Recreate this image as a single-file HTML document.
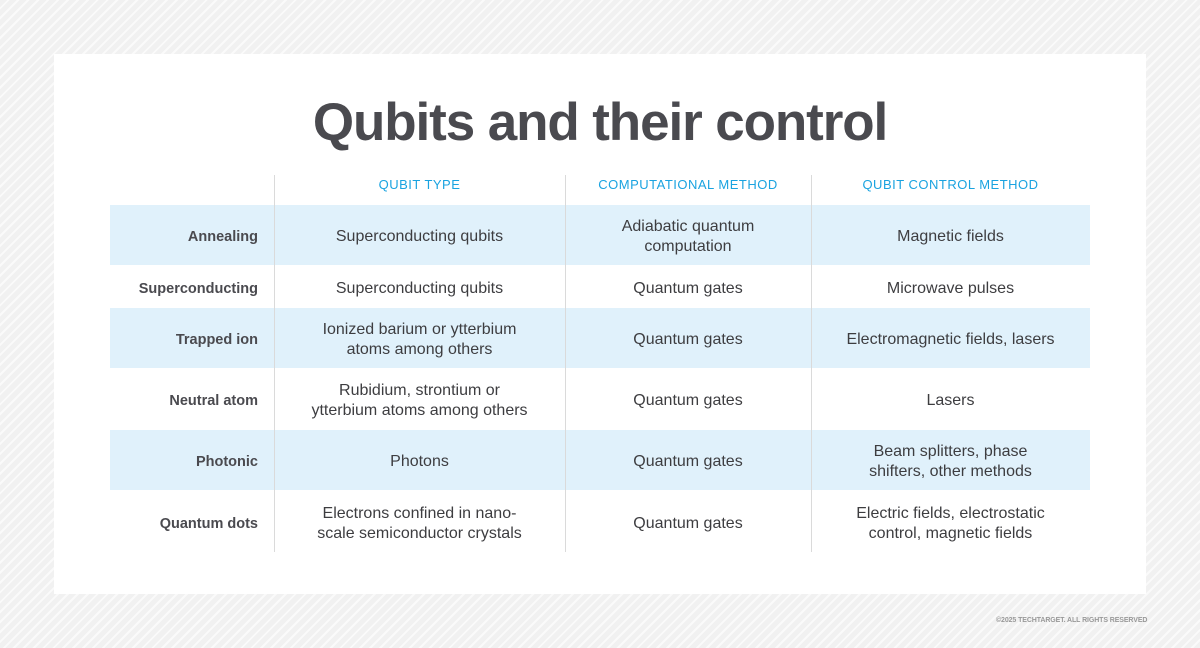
<!DOCTYPE html>
<html><head><meta charset="utf-8"><style>
body{margin:0;width:1200px;height:648px;overflow:hidden;font-family:"Liberation Sans",sans-serif;
background:#f1f1f1 repeating-linear-gradient(135deg,#f1f1f1 0 5px,#fafafa 5px 7px);position:relative}
.card{position:absolute;left:54px;top:54px;width:1092px;height:540px;background:#fff}
h1{position:absolute;left:0;width:1200px;top:92px;margin:0;text-align:center;font-size:53px;font-weight:bold;color:#4a4a4f;letter-spacing:-1.1px}
.row{position:absolute;left:110px;width:980px}
.blue{background:#e0f1fb}
.c{position:absolute;top:2px;height:100%;display:flex;align-items:center;justify-content:center;text-align:center;font-size:16px;color:#3d3d40;line-height:20px}
.c0{left:0;width:148px;justify-content:flex-end;font-weight:bold;font-size:14.5px;color:#4a4a4f}
.c1{left:164px;width:291px}.c2{left:455px;width:246px}.c3{left:701px;width:279px}
.hd .c{font-size:13px;color:#1aa3e0;letter-spacing:0.5px;top:0}
.v{position:absolute;top:175px;height:377px;width:1px;background:#dadada}
.copy{position:absolute;left:996px;top:617px;font-size:7px;font-weight:bold;color:#999;letter-spacing:-0.1px}
</style></head><body>
<div class="card"></div>
<h1>Qubits and their control</h1>
<div class="row hd" style="top:170px;height:30px"><div class="c c1">QUBIT TYPE</div><div class="c c2">COMPUTATIONAL METHOD</div><div class="c c3">QUBIT CONTROL METHOD</div></div>
<div class="row blue" style="top:205px;height:60px"><div class="c c0">Annealing</div><div class="c c1">Superconducting qubits</div><div class="c c2">Adiabatic quantum<br>computation</div><div class="c c3">Magnetic fields</div></div>
<div class="row" style="top:266px;height:41px"><div class="c c0">Superconducting</div><div class="c c1">Superconducting qubits</div><div class="c c2">Quantum gates</div><div class="c c3">Microwave pulses</div></div>
<div class="row blue" style="top:308px;height:60px"><div class="c c0">Trapped ion</div><div class="c c1">Ionized barium or ytterbium<br>atoms among others</div><div class="c c2">Quantum gates</div><div class="c c3">Electromagnetic fields, lasers</div></div>
<div class="row" style="top:369px;height:60px"><div class="c c0">Neutral atom</div><div class="c c1">Rubidium, strontium or<br>ytterbium atoms among others</div><div class="c c2">Quantum gates</div><div class="c c3">Lasers</div></div>
<div class="row blue" style="top:430px;height:60px"><div class="c c0">Photonic</div><div class="c c1">Photons</div><div class="c c2">Quantum gates</div><div class="c c3">Beam splitters, phase<br>shifters, other methods</div></div>
<div class="row" style="top:491px;height:61px"><div class="c c0">Quantum dots</div><div class="c c1">Electrons confined in nano-<br>scale semiconductor crystals</div><div class="c c2">Quantum gates</div><div class="c c3">Electric fields, electrostatic<br>control, magnetic fields</div></div>
<div class="v" style="left:274px"></div><div class="v" style="left:565px"></div><div class="v" style="left:811px"></div>
<div class="copy">©2025 TECHTARGET. ALL RIGHTS RESERVED</div>
</body></html>
